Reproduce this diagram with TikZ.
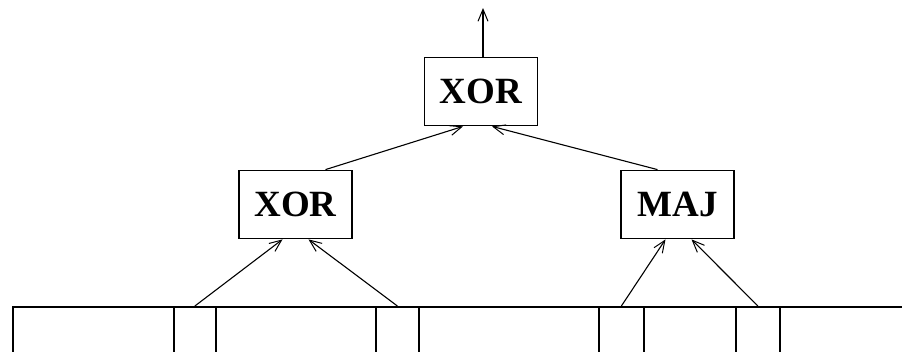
\documentclass[tikz,border=0pt]{standalone}
\usepackage{fontspec}
\setmainfont{Liberation Serif}
\usetikzlibrary{arrows.meta}
\begin{document}
\begin{tikzpicture}[x=1pt,y=-1pt,
  gate/.style={draw,line width=1.8pt,minimum width=113pt,minimum height=68pt,inner sep=0pt,
    font=\fontsize{37}{40}\selectfont\bfseries},
  cell/.style={draw,line width=1.8pt,minimum height=70pt,inner sep=0pt,anchor=north west},
  wire/.style={line width=1.1pt,-{Straight Barb[length=12pt,width=10pt,line width=1pt]}}]
\useasboundingbox (0,0) rectangle (902,351);
\clip (0,0) rectangle (902,351);
\fill[white] (0,0) rectangle (902,351);
% register cells
\node[cell,minimum width=161pt] (r0) at (12,306) {};
\node[cell,minimum width=42pt] (c1) at (173,306) {};
\node[cell,minimum width=160pt] (r1) at (215,306) {};
\node[cell,minimum width=43pt] (c2) at (375,306) {};
\node[cell,minimum width=180pt] (r2) at (418,306) {};
\node[cell,minimum width=45pt] (c3) at (598,306) {};
\node[cell,minimum width=92pt] (r3) at (643,306) {};
\node[cell,minimum width=44pt] (c4) at (735,306) {};
\node[cell,minimum width=140pt] (r4) at (779,306) {};
% gates
\node[gate] (top) at (481,91.5) {XOR};
\node[gate] (lx) at (295.5,204.5) {XOR};
\node[gate] (mj) at (677.5,204.5) {MAJ};
\coordinate (out) at (483,8);
% connectors
\draw[wire] (c1.north) -- ([xshift=-13pt]lx.south);
\draw[wire] (c2.north) -- ([xshift=13pt]lx.south);
\draw[wire] (c3.north) -- ([xshift=-12pt]mj.south);
\draw[wire] (c4.north) -- ([xshift=14pt]mj.south);
\draw[wire] ([xshift=30pt]lx.north) -- ([xshift=-18pt]top.south);
\draw[wire] ([xshift=-20pt]mj.north) -- ([xshift=11pt]top.south);
\draw[wire] (top.north -| out) -- (out);
\end{tikzpicture}
\end{document}
